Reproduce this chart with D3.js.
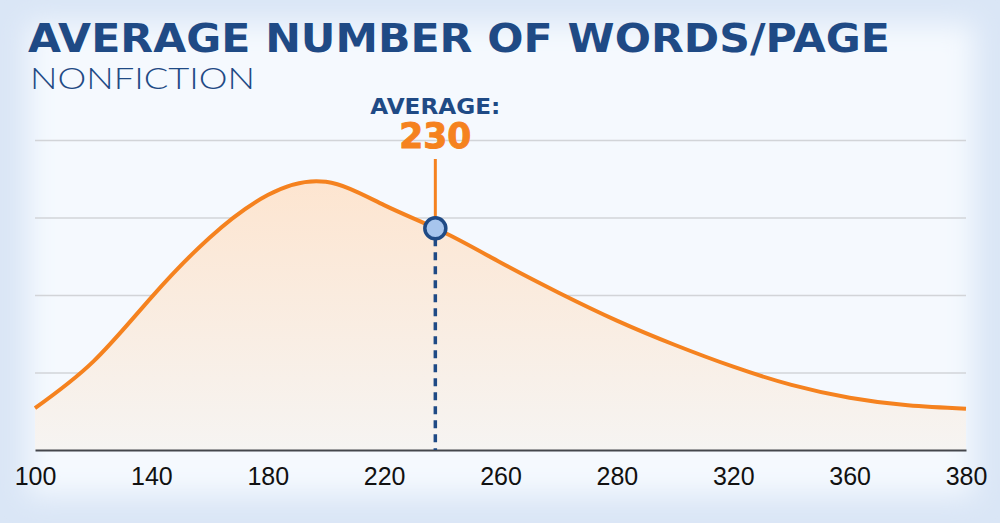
<!DOCTYPE html>
<html>
<head>
<meta charset="utf-8">
<script src="https://cdn.jsdelivr.net/npm/d3@7"></script>
<style>
  html, body { margin: 0; padding: 0; background: #dfe9f7; }
  svg { display: block; }
</style>
</head>
<body>
<svg id="chart" width="1000" height="523"></svg>
<script>
// axis tick labels (drawn evenly spaced, like the original)
const tickValues = [100, 140, 180, 220, 260, 280, 320, 360, 380];

// distribution curve (x in axis units, y in grid steps)
const curveX = [100, 120, 140, 160, 180, 200, 220, 240, 260, 270, 280, 300, 320, 340, 360, 370, 380];
const curveY = [0.54, 1.14, 1.97, 2.74, 3.29, 3.46, 3.16, 2.82, 2.42, 2.03, 1.67, 1.355, 1.075, 0.84, 0.675, 0.577, 0.533];

// average marker
const avgLabel = '230';
const avgPos = 237.6;
const avgValue = 2.86;
const gridValues = [1, 2, 3, 4];

const width = 1000;
const height = 523;
const plotLeft = 35, plotRight = 966, plotBottom = 450, plotTop = 140;

const svg = d3.select('#chart');
const defs = svg.append('defs');

// background with soft blue edges
defs.append('filter').attr('id', 'soft')
    .attr('x', '-10%').attr('y', '-10%').attr('width', '120%').attr('height', '120%')
    .append('feGaussianBlur').attr('stdDeviation', 14);

svg.append('rect')
    .attr('width', width).attr('height', height)
    .attr('fill', '#dae6f6');
svg.append('rect')
    .attr('x', 28).attr('y', 24)
    .attr('width', width - 54).attr('height', height - 52)
    .attr('fill', '#f5f9fe')
    .attr('filter', 'url(#soft)');

const areaGrad = defs.append('linearGradient').attr('id', 'areaGrad')
    .attr('x1', 0).attr('y1', 0).attr('x2', 0).attr('y2', 1);
areaGrad.append('stop').attr('offset', '0%').attr('stop-color', '#fde5d0');
areaGrad.append('stop').attr('offset', '100%').attr('stop-color', '#f6f4f2');

const x = d3.scaleLinear()
    .domain(tickValues)
    .range(tickValues.map((d, i) => plotLeft + i * (plotRight - plotLeft) / (tickValues.length - 1)));

const y = d3.scaleLinear()
    .domain([0, 4])
    .range([plotBottom, plotTop]);

const data = curveX.map((d, i) => ({x: d, y: curveY[i]}));

// gridlines
svg.append('g')
    .attr('transform', 'translate(' + plotLeft + ',0)')
    .call(d3.axisLeft(y).tickValues(gridValues).tickSize(-(plotRight - plotLeft)).tickFormat(''))
    .call(g => g.select('.domain').remove())
    .call(g => g.selectAll('line').attr('stroke', '#d2d4d8').attr('stroke-width', 1.5));

// area + line (points are evenly spaced on screen, so a natural spline stays smooth)
const area = d3.area()
    .curve(d3.curveNatural)
    .x(d => x(d.x))
    .y0(y(0))
    .y1(d => y(d.y));

const line = d3.line()
    .curve(d3.curveNatural)
    .x(d => x(d.x))
    .y(d => y(d.y));

svg.append('path')
    .attr('d', area(data))
    .attr('fill', 'url(#areaGrad)');

// x axis
svg.append('g')
    .attr('transform', 'translate(0,' + plotBottom + ')')
    .call(d3.axisBottom(x).tickValues(tickValues).tickSize(0).tickPadding(17).tickFormat(d3.format('d')))
    .call(g => g.select('.domain').attr('stroke', '#45474c').attr('stroke-width', 2.2))
    .call(g => g.selectAll('text')
        .attr('font-family', 'Liberation Sans, Arial, sans-serif')
        .attr('font-size', 25)
        .attr('fill', '#111'));

svg.append('path')
    .attr('d', line(data))
    .attr('fill', 'none')
    .attr('stroke', '#f5821f')
    .attr('stroke-width', 4);

// average marker
const avgY = y(avgValue);

svg.append('line')
    .attr('x1', x(avgPos)).attr('x2', x(avgPos))
    .attr('y1', avgY + 10).attr('y2', plotBottom)
    .attr('stroke', '#1f4a85')
    .attr('stroke-width', 3.5)
    .attr('stroke-dasharray', '8,6');

svg.append('line')
    .attr('x1', x(avgPos)).attr('x2', x(avgPos))
    .attr('y1', 159).attr('y2', avgY)
    .attr('stroke', '#f5821f')
    .attr('stroke-width', 3);

svg.append('circle')
    .attr('cx', x(avgPos)).attr('cy', avgY)
    .attr('r', 10.5)
    .attr('fill', '#a7c5ed')
    .attr('stroke', '#1f4a85')
    .attr('stroke-width', 3.5);

svg.append('text')
    .attr('x', x(avgPos)).attr('y', 114)
    .attr('text-anchor', 'middle')
    .attr('font-family', 'DejaVu Sans, sans-serif')
    .attr('font-weight', 'bold')
    .attr('font-size', 22)
    .attr('textLength', 130).attr('lengthAdjust', 'spacingAndGlyphs')
    .attr('fill', '#1f4a85')
    .text('AVERAGE:');

svg.append('text')
    .attr('x', x(avgPos)).attr('y', 148)
    .attr('text-anchor', 'middle')
    .attr('font-family', 'DejaVu Sans, sans-serif')
    .attr('font-weight', 'bold')
    .attr('font-size', 35)
    .attr('textLength', 72).attr('lengthAdjust', 'spacingAndGlyphs')
    .attr('fill', '#f5821f')
    .attr('stroke', '#f5821f')
    .attr('stroke-width', 1)
    .text(avgLabel);

// titles
svg.append('text')
    .attr('x', 28).attr('y', 52)
    .attr('font-family', 'DejaVu Sans, sans-serif')
    .attr('font-weight', 'bold')
    .attr('font-size', 39)
    .attr('textLength', 862).attr('lengthAdjust', 'spacingAndGlyphs')
    .attr('fill', '#1f4a85')
    .text('AVERAGE NUMBER OF WORDS/PAGE');

svg.append('text')
    .attr('x', 30).attr('y', 89)
    .attr('font-family', 'Lato, sans-serif')
    .attr('font-weight', 300)
    .attr('font-size', 30)
    .attr('textLength', 225).attr('lengthAdjust', 'spacingAndGlyphs')
    .attr('fill', '#1f4a85')
    .text('NONFICTION');
</script>
</body>
</html>
